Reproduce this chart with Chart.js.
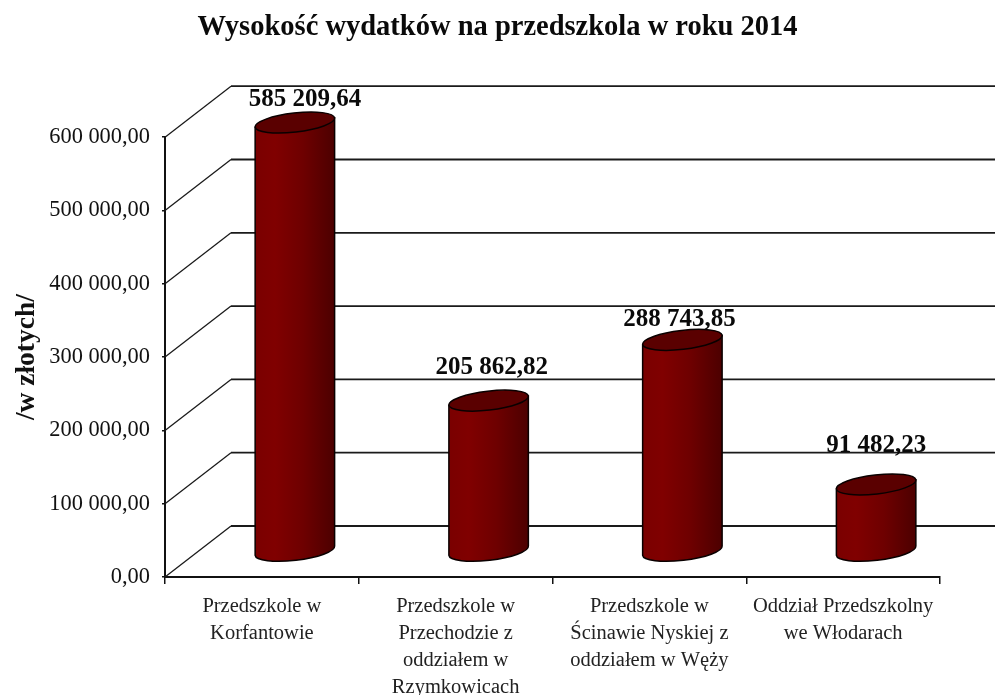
<!DOCTYPE html>
<html><head><meta charset="utf-8">
<style>html,body{margin:0;padding:0;background:#fff}canvas{display:block}</style>
<script src="https://cdn.jsdelivr.net/npm/chart.js@4/dist/chart.umd.min.js"></script>
</head><body>
<canvas id="c" width="995" height="695"></canvas>
<script>
const categories = [
  ["Przedszkole w","Korfantowie"],
  ["Przedszkole w","Przechodzie z","oddziałem w","Rzymkowicach"],
  ["Przedszkole w","Ścinawie Nyskiej z","oddziałem w Węży"],
  ["Oddział Przedszkolny","we Włodarach"]
];
const values = [585209.64, 205862.82, 288743.85, 91482.23];
const valueLabels = ["585 209,64","205 862,82","288 743,85","91 482,23"];
const tickLabels = ["0,00","100 000,00","200 000,00","300 000,00","400 000,00","500 000,00","600 000,00"];
const titleText = "Wysokość wydatków na przedszkola w roku 2014";
const axisTitle = "/w złotych/";

const SERIF = '"Liberation Serif","Times New Roman",serif';
const DEPTH = {x:66, y:-51};
const labelShift = [{x:10,y:-23},{x:3,y:-33},{x:-3,y:-20},{x:0,y:-39}];

const wall = {
  id:'wall',
  beforeDatasetsDraw(chart){
    const {ctx,scales:{y},chartArea:a} = chart;
    ctx.save();
    ctx.strokeStyle = '#1a1a1a';
    y.ticks.forEach(t=>{
      const py = y.getPixelForValue(t.value);
      ctx.lineWidth = 1.3;
      ctx.beginPath();
      ctx.moveTo(a.left,py);
      ctx.lineTo(a.left+DEPTH.x,py+DEPTH.y);
      ctx.stroke();
      ctx.lineWidth = 1.8;
      ctx.beginPath();
      ctx.moveTo(a.left+DEPTH.x,py+DEPTH.y);
      ctx.lineTo(chart.width,py+DEPTH.y);
      ctx.stroke();
    });
    ctx.restore();
  }
};

const cylinders = {
  id:'cylinders',
  beforeDatasetDraw(chart,args){
    const {ctx} = chart;
    const meta = args.meta;
    ctx.save();
    meta.data.forEach(b=>{
      const cx = b.x + DEPTH.x/2, top = b.y + DEPTH.y/2, bot = b.base + DEPTH.y/2;
      const rx = b.width/2, ry = 9.5, tilt = -0.115;
      const dy = Math.sin(tilt)*rx, dx = Math.cos(tilt)*rx;
      const g = ctx.createLinearGradient(cx-rx,0,cx+rx,0);
      g.addColorStop(0,'#7a0000'); g.addColorStop(.25,'#800000');
      g.addColorStop(.6,'#6e0000'); g.addColorStop(1,'#4c0000');
      ctx.beginPath();
      ctx.moveTo(cx-dx,top-dy);
      ctx.lineTo(cx-dx,bot-dy);
      ctx.ellipse(cx,bot,rx,ry,tilt,Math.PI,0,true);
      ctx.lineTo(cx+dx,top+dy);
      ctx.closePath();
      ctx.fillStyle = g; ctx.fill();
      ctx.lineWidth = 1.5; ctx.strokeStyle = '#0a0000'; ctx.stroke();
      ctx.beginPath();
      ctx.ellipse(cx,top,rx,ry,tilt,0,Math.PI*2);
      ctx.fillStyle = '#5a0000'; ctx.fill(); ctx.stroke();
    });
    ctx.restore();
    return false;
  },
  afterDatasetsDraw(chart){
    const {ctx} = chart;
    const meta = chart.getDatasetMeta(0);
    ctx.save();
    ctx.font = 'bold 25px '+SERIF;
    ctx.fillStyle = '#0a0a0a'; ctx.textAlign='center'; ctx.textBaseline='middle';
    meta.data.forEach((b,i)=>{
      ctx.fillText(valueLabels[i], b.x+DEPTH.x/2+labelShift[i].x, b.y+DEPTH.y/2+labelShift[i].y);
    });
    ctx.restore();
  }
};

new Chart(document.getElementById('c'),{
  type:'bar',
  data:{labels:categories,datasets:[{data:values,backgroundColor:'#7a0000',barThickness:80}]},
  options:{
    responsive:false,animation:false,
    plugins:{
      legend:{display:false},tooltip:{enabled:false},
      title:{display:true,text:titleText,color:'#0a0a0a',
        font:{family:SERIF,size:28.5,weight:'bold',lineHeight:1.2},
        padding:{top:11,bottom:92}}
    },
    scales:{
      x:{
        afterFit(s){s.height=118;},
        grid:{drawOnChartArea:false,color:'#111',lineWidth:1.5,tickLength:7},
        border:{color:'#111',width:2},
        ticks:{color:'#222',maxRotation:0,autoSkip:false,padding:9,
          font:{family:SERIF,size:20.5,lineHeight:1.317}}
      },
      y:{
        min:0,max:600000,
        afterFit(s){s.width=165;},
        grid:{drawOnChartArea:false,color:'#111',lineWidth:1.5,tickLength:3},
        border:{color:'#111',width:2},
        ticks:{stepSize:100000,color:'#111',padding:12,
          font:{family:SERIF,size:22.4},
          callback(v){return tickLabels[Math.round(v/100000)];}},
        title:{display:true,text:axisTitle,color:'#111',padding:{top:10,bottom:0},
          font:{family:SERIF,size:27.5,weight:'bold'}}
      },
      rightGap:{
        position:'right',display:true,
        afterFit(s){s.width=55;},
        grid:{display:false},border:{display:false},ticks:{display:false}
      }
    }
  },
  plugins:[wall,cylinders]
});
</script>
</body></html>
